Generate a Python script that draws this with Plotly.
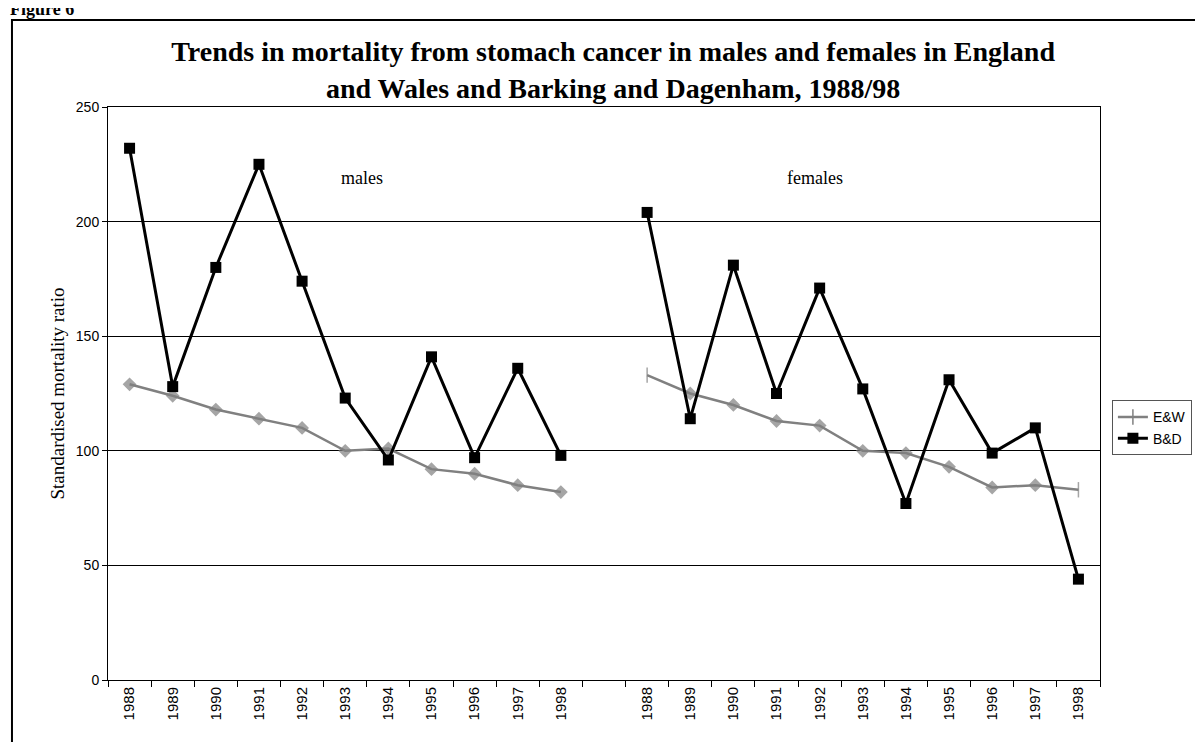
import plotly.graph_objects as go

# ---- data ----
MALE_YEARS = ["1988", "1989", "1990", "1991", "1992", "1993", "1994", "1995", "1996", "1997", "1998"]
FEMALE_YEARS = ["1988", "1989", "1990", "1991", "1992", "1993", "1994", "1995", "1996", "1997", "1998"]

EW_MALES = [129, 124, 118, 114, 110, 100, 101, 92, 90, 85, 82]
BD_MALES = [232, 128, 180, 225, 174, 123, 96, 141, 97, 136, 98]
EW_FEMALES = [133, 125, 120, 113, 111, 100, 99, 93, 84, 85, 83]
BD_FEMALES = [204, 114, 181, 125, 171, 127, 77, 131, 99, 110, 44]

LABELS = MALE_YEARS + [""] + FEMALE_YEARS
X = list(range(len(LABELS)))
EW = EW_MALES + [None] + EW_FEMALES
BD = BD_MALES + [None] + BD_FEMALES

GREY = "#808080"
SERIF = "Liberation Serif, Times New Roman, serif"
SANS = "Liberation Sans, Arial, sans-serif"

# E&W female end points are drawn with a tick marker, the rest as diamonds
ew_symbols = ["diamond"] * len(X)
first_f = len(MALE_YEARS) + 1
ew_symbols[first_f] = "line-ns"
ew_symbols[-1] = "line-ns"
ew_sizes = [9 if s == "diamond" else 11 for s in ew_symbols]

fig = go.Figure()
fig.add_trace(go.Scatter(
    x=X, y=EW, mode="lines+markers", name="E&W", showlegend=False, legendgroup="ew",
    line=dict(color=GREY, width=2.5),
    marker=dict(symbol=ew_symbols, size=ew_sizes, color=GREY, line=dict(color=GREY, width=1.5)),
))
# legend-only entry so the key shows the tick marker like the original
fig.add_trace(go.Scatter(
    x=[None], y=[None], mode="lines+markers", name="E&W", legendgroup="ew",
    line=dict(color=GREY, width=2.5),
    marker=dict(symbol="line-ns", size=11, color=GREY, line=dict(color=GREY, width=1.5)),
))
fig.add_trace(go.Scatter(
    x=X, y=BD, mode="lines+markers", name="B&D",
    line=dict(color="black", width=3),
    marker=dict(symbol="square", size=11, color="black"),
))

fig.update_layout(
    width=1203, height=742,
    paper_bgcolor="white", plot_bgcolor="white",
    margin=dict(l=100, r=111, t=99, b=70),
    font=dict(family=SANS, color="black", size=12),
    title=dict(
        text="<b>Trends in mortality from stomach cancer in males and females in England<br>"
             "and Wales and Barking and Dagenham, 1988/98</b>",
        font=dict(family=SERIF, size=28, color="black"),
        x=0.503, xanchor="center", y=0.928, yanchor="top",
    ),
    legend=dict(
        x=1.012, xanchor="left", y=0.44, yanchor="middle",
        bgcolor="white", bordercolor="#555555", borderwidth=1,
        font=dict(family=SANS, size=14), tracegroupgap=0, itemwidth=30,
    ),
    showlegend=True,
)

fig.update_xaxes(
    range=[-0.5, len(X) - 0.5],
    tickmode="array", tickvals=X, ticktext=LABELS, tickangle=-90,
    ticks="", showgrid=False, zeroline=False,
    showline=True, linecolor="black", linewidth=1, mirror=True,
    tickfont=dict(family=SANS, size=15, color="black"),
    minor=dict(tickmode="array", tickvals=[i - 0.5 for i in range(len(X) + 1)],
               ticks="outside", ticklen=6, tickcolor="black", tickwidth=1, showgrid=False),
)
fig.update_yaxes(
    range=[0, 250], dtick=50,
    showgrid=True, gridcolor="black", gridwidth=1, zeroline=False,
    showline=True, linecolor="black", linewidth=1, mirror=True,
    ticks="outside", ticklen=5, tickcolor="black",
    tickfont=dict(family=SANS, size=14, color="black"),
    title=dict(text="Standardised mortality ratio", font=dict(family=SERIF, size=19), standoff=6),
)

fig.add_annotation(x=5.4, y=219, xref="x", yref="y", text="males", showarrow=False,
                   font=dict(family=SERIF, size=18, color="black"))
fig.add_annotation(x=15.9, y=219, xref="x", yref="y", text="females", showarrow=False,
                   font=dict(family=SERIF, size=18, color="black"))

# page-level "Figure 6" caption, cut off by the top edge as in the original
fig.add_annotation(x=-0.1008, y=1.171, xref="paper", yref="paper", xanchor="left", yanchor="middle",
                   text="<b>Figure 6</b>", showarrow=False,
                   font=dict(family=SERIF, size=18, color="black"))

# frame around the chart, running off the right and bottom of the page
fig.add_shape(type="rect", xref="paper", yref="paper",
              x0=-0.0968, y0=-0.14, x1=1.13, y1=1.152,
              line=dict(color="black", width=2), fillcolor="rgba(0,0,0,0)", layer="below")

fig.write_html("out.html")
